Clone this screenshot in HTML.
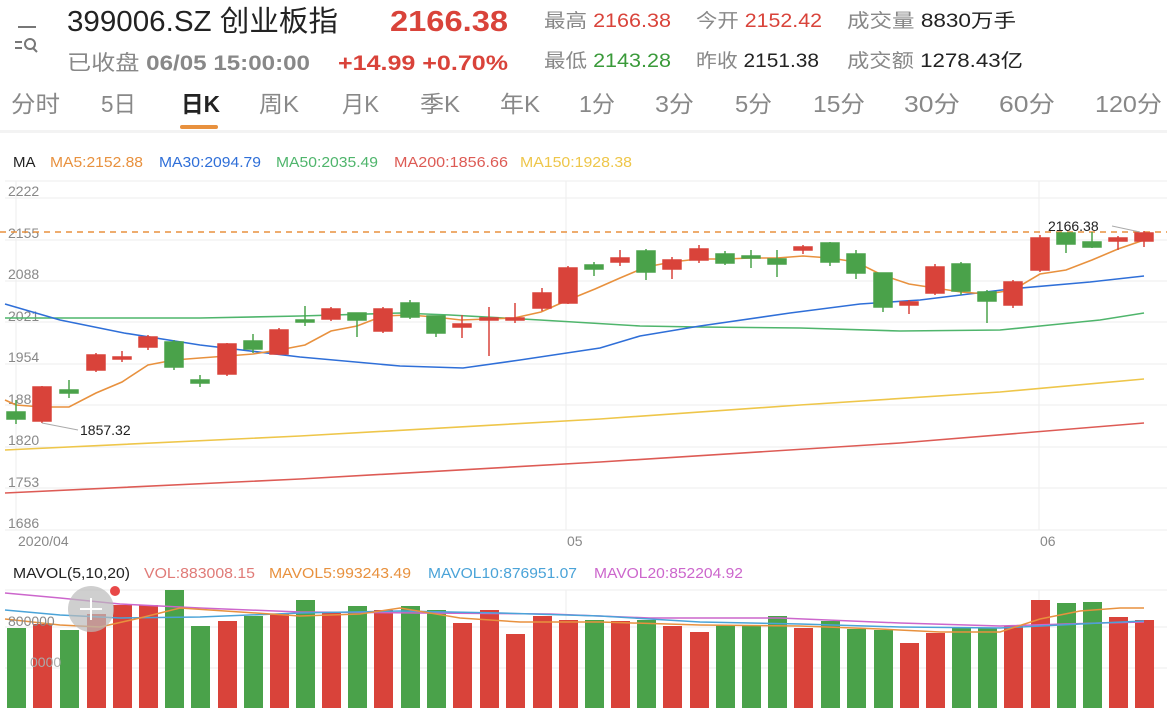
<!DOCTYPE html>
<html><head><meta charset="utf-8"><style>
html,body{margin:0;padding:0;background:#fff;width:1167px;height:716px;overflow:hidden}
svg{display:block}
text{font-family:"Liberation Sans","Noto Sans CJK SC",sans-serif}
</style></head><body>
<svg width="1167" height="716" viewBox="0 0 1167 716" xmlns="http://www.w3.org/2000/svg">
<!-- header -->
<g stroke="#777" stroke-width="2" fill="none">
<line x1="18" y1="27" x2="36" y2="27"/><line x1="15" y1="42" x2="22" y2="42"/><line x1="15" y1="48" x2="22" y2="48"/>
<circle cx="30" cy="44" r="5"/><line x1="33" y1="48" x2="37" y2="52"/>
</g>
<text x="67" y="31" font-size="29" fill="#222" textLength="271" lengthAdjust="spacingAndGlyphs">399006.SZ 创业板指</text>
<text x="390" y="31" font-size="29" font-weight="bold" fill="#d9433a" textLength="118" lengthAdjust="spacingAndGlyphs">2166.38</text>
<text x="67" y="70" font-size="21" fill="#888" textLength="243" lengthAdjust="spacingAndGlyphs">已收盘 <tspan font-weight="bold">06/05 15:00:00</tspan></text>
<text x="338" y="70" font-size="21" font-weight="bold" fill="#d9433a" textLength="170" lengthAdjust="spacingAndGlyphs">+14.99  +0.70%</text>
<g font-size="19">
<text x="544" y="27" fill="#888" textLength="127" lengthAdjust="spacingAndGlyphs">最高 <tspan fill="#d9433a">2166.38</tspan></text>
<text x="696" y="27" fill="#888" textLength="126" lengthAdjust="spacingAndGlyphs">今开 <tspan fill="#d9433a">2152.42</tspan></text>
<text x="847" y="27" fill="#888" textLength="169" lengthAdjust="spacingAndGlyphs">成交量 <tspan fill="#222">8830万手</tspan></text>
<text x="544" y="67" fill="#888" textLength="127" lengthAdjust="spacingAndGlyphs">最低 <tspan fill="#3a9a3a">2143.28</tspan></text>
<text x="696" y="67" fill="#888" textLength="123" lengthAdjust="spacingAndGlyphs">昨收 <tspan fill="#222">2151.38</tspan></text>
<text x="847" y="67" fill="#888" textLength="176" lengthAdjust="spacingAndGlyphs">成交额 <tspan fill="#222">1278.43亿</tspan></text>
</g>
<g font-size="23" fill="#888">
<text x="11" y="112" textLength="49" lengthAdjust="spacingAndGlyphs">分时</text>
<text x="101" y="112" textLength="35" lengthAdjust="spacingAndGlyphs">5日</text>
<text x="181" y="112" fill="#222" font-weight="bold" textLength="39" lengthAdjust="spacingAndGlyphs">日K</text>
<text x="259" y="112" textLength="40" lengthAdjust="spacingAndGlyphs">周K</text>
<text x="342" y="112" textLength="37" lengthAdjust="spacingAndGlyphs">月K</text>
<text x="420" y="112" textLength="40" lengthAdjust="spacingAndGlyphs">季K</text>
<text x="500" y="112" textLength="40" lengthAdjust="spacingAndGlyphs">年K</text>
<text x="579" y="112" textLength="36" lengthAdjust="spacingAndGlyphs">1分</text>
<text x="655" y="112" textLength="39" lengthAdjust="spacingAndGlyphs">3分</text>
<text x="735" y="112" textLength="37" lengthAdjust="spacingAndGlyphs">5分</text>
<text x="813" y="112" textLength="52" lengthAdjust="spacingAndGlyphs">15分</text>
<text x="904" y="112" textLength="56" lengthAdjust="spacingAndGlyphs">30分</text>
<text x="999" y="112" textLength="56" lengthAdjust="spacingAndGlyphs">60分</text>
<text x="1095" y="112" textLength="67" lengthAdjust="spacingAndGlyphs">120分</text>
</g>
<rect x="180" y="125" width="38" height="4" rx="2" fill="#e8913e"/>
<rect x="0" y="130" width="1167" height="3" fill="#f3f3f3"/>
<!-- MA legend -->
<g font-size="15">
<text x="13" y="167" fill="#222">MA</text>
<text x="50" y="167" fill="#e8913e" textLength="93" lengthAdjust="spacingAndGlyphs">MA5:2152.88</text>
<text x="159" y="167" fill="#2f6fd8" textLength="102" lengthAdjust="spacingAndGlyphs">MA30:2094.79</text>
<text x="276" y="167" fill="#4fb56c" textLength="102" lengthAdjust="spacingAndGlyphs">MA50:2035.49</text>
<text x="394" y="167" fill="#dd5b55" textLength="114" lengthAdjust="spacingAndGlyphs">MA200:1856.66</text>
<text x="520" y="167" fill="#eec64a" textLength="112" lengthAdjust="spacingAndGlyphs">MA150:1928.38</text>
</g>
<!-- grid -->
<g stroke="#eeeeee" stroke-width="1">
<line x1="5" y1="181" x2="1167" y2="181"/><line x1="5" y1="198" x2="1167" y2="198"/>
<line x1="5" y1="240" x2="1167" y2="240"/><line x1="5" y1="281" x2="1167" y2="281"/>
<line x1="5" y1="322" x2="1167" y2="322"/><line x1="5" y1="364" x2="1167" y2="364"/>
<line x1="5" y1="405" x2="1167" y2="405"/><line x1="5" y1="447" x2="1167" y2="447"/>
<line x1="5" y1="488" x2="1167" y2="488"/><line x1="5" y1="530" x2="1167" y2="530"/>
<line x1="16" y1="181" x2="16" y2="530"/><line x1="566" y1="181" x2="566" y2="530"/><line x1="1039" y1="181" x2="1039" y2="530"/>
<line x1="5" y1="590" x2="1167" y2="590"/><line x1="5" y1="627" x2="1167" y2="627"/><line x1="5" y1="668" x2="1167" y2="668"/>
<line x1="566" y1="590" x2="566" y2="708"/><line x1="1039" y1="590" x2="1039" y2="708"/>
</g>
<g font-size="14" fill="#888">
<text x="8" y="196">2222</text><text x="8" y="238">2155</text><text x="8" y="279">2088</text>
<text x="8" y="321">2021</text><text x="8" y="362">1954</text><text x="8" y="404">188</text>
<text x="8" y="445">1820</text><text x="8" y="487">1753</text><text x="8" y="528">1686</text>
<text x="18" y="546">2020/04</text><text x="567" y="546">05</text><text x="1040" y="546">06</text>
</g>
<line x1="0" y1="232" x2="1167" y2="232" stroke="#e8913e" stroke-width="1.5" stroke-dasharray="6,5"/>
<!-- MA lines -->
<g fill="none" stroke-width="1.6">
<polyline stroke="#dd5b55" points="5,493 300,479 600,462 900,443 1144,423"/>
<polyline stroke="#eec64a" points="5,450 300,436 600,419 800,405 1000,392 1144,379"/>
<polyline stroke="#4fb56c" points="5,318 200,318 300,316 400,313 450,315 540,320 640,326 700,327 800,328 900,331 1000,330 1050,325 1100,320 1144,313"/>
<polyline stroke="#2f6fd8" points="5,304 60,320 124,333 200,345 300,357 400,366 463,368 520,360 600,348 640,336 700,326 790,313 860,304 920,300 1010,289 1090,282 1144,276"/>
<polyline stroke="#e8913e" points="5,400 16,405 42,407 69,407 96,393 122,382 148,365 174,360 200,358 227,356 253,354 279,350 305,345 331,331 357,326 383,316 409,315 435,317 461,320 488,319 514,318 541,312 568,300 595,289 620,278 646,267 672,262 698,259 725,259 751,258 777,258 803,256 830,258 856,262 882,275 909,284 935,288 961,292 987,294 1013,290 1040,274 1066,270 1092,260 1118,249 1144,240"/>
</g>
<!-- candles -->
<g stroke-width="1.5">
<g stroke="#4aa24a" fill="#4aa24a">
<line x1="16" y1="400" x2="16" y2="424"/><rect x="7" y="412" width="18" height="7"/>
<line x1="69" y1="380" x2="69" y2="398"/><rect x="60" y="390" width="18" height="3"/>
<line x1="174" y1="340" x2="174" y2="370"/><rect x="165" y="342" width="18" height="25"/>
<line x1="200" y1="375" x2="200" y2="387"/><rect x="191" y="380" width="18" height="3"/>
<line x1="253" y1="334" x2="253" y2="353"/><rect x="244" y="341" width="18" height="8"/>
<line x1="305" y1="306" x2="305" y2="326"/><rect x="296" y="320" width="18" height="2"/>
<line x1="357" y1="313" x2="357" y2="337"/><rect x="348" y="313" width="18" height="7"/>
<line x1="410" y1="300" x2="410" y2="319"/><rect x="401" y="303" width="18" height="14"/>
<line x1="436" y1="316" x2="436" y2="337"/><rect x="427" y="316" width="18" height="17"/>
<line x1="594" y1="262" x2="594" y2="276"/><rect x="585" y="265" width="18" height="4"/>
<line x1="646" y1="249" x2="646" y2="280"/><rect x="637" y="251" width="18" height="21"/>
<line x1="725" y1="251" x2="725" y2="265"/><rect x="716" y="254" width="18" height="9"/>
<line x1="751" y1="250" x2="751" y2="268"/><rect x="742" y="256" width="18" height="2"/>
<line x1="777" y1="250" x2="777" y2="277"/><rect x="768" y="259" width="18" height="5"/>
<line x1="830" y1="242" x2="830" y2="266"/><rect x="821" y="243" width="18" height="19"/>
<line x1="856" y1="250" x2="856" y2="279"/><rect x="847" y="254" width="18" height="19"/>
<line x1="883" y1="273" x2="883" y2="312"/><rect x="874" y="273" width="18" height="34"/>
<line x1="961" y1="262" x2="961" y2="295"/><rect x="952" y="264" width="18" height="27"/>
<line x1="987" y1="290" x2="987" y2="323"/><rect x="978" y="292" width="18" height="9"/>
<line x1="1066" y1="233" x2="1066" y2="253"/><rect x="1057" y="233" width="18" height="11"/>
<line x1="1092" y1="232" x2="1092" y2="248"/><rect x="1083" y="242" width="18" height="5"/>
</g>
<g stroke="#d9433a" fill="#d9433a">
<line x1="42" y1="386" x2="42" y2="423"/><rect x="33" y="387" width="18" height="34"/>
<line x1="96" y1="353" x2="96" y2="372"/><rect x="87" y="355" width="18" height="15"/>
<line x1="122" y1="351" x2="122" y2="362"/><rect x="113" y="357" width="18" height="2"/>
<line x1="148" y1="335" x2="148" y2="350"/><rect x="139" y="337" width="18" height="10"/>
<line x1="227" y1="343" x2="227" y2="376"/><rect x="218" y="344" width="18" height="30"/>
<line x1="279" y1="328" x2="279" y2="355"/><rect x="270" y="330" width="18" height="24"/>
<line x1="331" y1="307" x2="331" y2="321"/><rect x="322" y="309" width="18" height="10"/>
<line x1="383" y1="307" x2="383" y2="333"/><rect x="374" y="309" width="18" height="22"/>
<line x1="462" y1="315" x2="462" y2="338"/><rect x="453" y="324" width="18" height="3"/>
<line x1="489" y1="307" x2="489" y2="356"/><rect x="480" y="318" width="18" height="2"/>
<line x1="515" y1="303" x2="515" y2="323"/><rect x="506" y="318" width="18" height="2"/>
<line x1="542" y1="288" x2="542" y2="311"/><rect x="533" y="293" width="18" height="15"/>
<line x1="568" y1="266" x2="568" y2="304"/><rect x="559" y="268" width="18" height="35"/>
<line x1="620" y1="250" x2="620" y2="266"/><rect x="611" y="258" width="18" height="4"/>
<line x1="672" y1="257" x2="672" y2="279"/><rect x="663" y="260" width="18" height="9"/>
<line x1="699" y1="245" x2="699" y2="263"/><rect x="690" y="249" width="18" height="11"/>
<line x1="803" y1="245" x2="803" y2="254"/><rect x="794" y="247" width="18" height="3"/>
<line x1="909" y1="300" x2="909" y2="314"/><rect x="900" y="302" width="18" height="3"/>
<line x1="935" y1="264" x2="935" y2="295"/><rect x="926" y="267" width="18" height="26"/>
<line x1="1013" y1="280" x2="1013" y2="308"/><rect x="1004" y="282" width="18" height="23"/>
<line x1="1040" y1="235" x2="1040" y2="272"/><rect x="1031" y="238" width="18" height="32"/>
<line x1="1118" y1="236" x2="1118" y2="250"/><rect x="1109" y="238" width="18" height="3"/>
<line x1="1144" y1="231" x2="1144" y2="247"/><rect x="1135" y="233" width="18" height="8"/>
</g>
</g>
<!-- annotations -->
<line x1="42" y1="423" x2="78" y2="430" stroke="#aaa" stroke-width="1"/>
<text x="80" y="435" font-size="14" fill="#222">1857.32</text>
<line x1="1112" y1="226" x2="1140" y2="232" stroke="#aaa" stroke-width="1"/>
<text x="1048" y="231" font-size="14" fill="#222">2166.38</text>
<!-- volume -->
<g font-size="15">
<text x="13" y="578" fill="#222" textLength="117" lengthAdjust="spacingAndGlyphs">MAVOL(5,10,20)</text>
<text x="144" y="578" fill="#e07b78" textLength="111" lengthAdjust="spacingAndGlyphs">VOL:883008.15</text>
<text x="269" y="578" fill="#e8913e" textLength="142" lengthAdjust="spacingAndGlyphs">MAVOL5:993243.49</text>
<text x="428" y="578" fill="#4aa3d8" textLength="149" lengthAdjust="spacingAndGlyphs">MAVOL10:876951.07</text>
<text x="594" y="578" fill="#cc66cc" textLength="149" lengthAdjust="spacingAndGlyphs">MAVOL20:852204.92</text>
</g>
<g fill="#4aa24a">
<rect x="7" y="628" width="19" height="80"/><rect x="60" y="630" width="19" height="78"/>
<rect x="165" y="590" width="19" height="118"/><rect x="191" y="626" width="19" height="82"/>
<rect x="244" y="616" width="19" height="92"/><rect x="296" y="600" width="19" height="108"/>
<rect x="348" y="606" width="19" height="102"/><rect x="401" y="606" width="19" height="102"/>
<rect x="427" y="610" width="19" height="98"/><rect x="585" y="620" width="19" height="88"/>
<rect x="637" y="620" width="19" height="88"/><rect x="716" y="625" width="19" height="83"/>
<rect x="742" y="625" width="19" height="83"/><rect x="768" y="616" width="19" height="92"/>
<rect x="821" y="621" width="19" height="87"/><rect x="847" y="629" width="19" height="79"/>
<rect x="874" y="630" width="19" height="78"/><rect x="952" y="628" width="19" height="80"/>
<rect x="978" y="628" width="19" height="80"/><rect x="1057" y="603" width="19" height="105"/>
<rect x="1083" y="602" width="19" height="106"/>
</g>
<g fill="#d9433a">
<rect x="33" y="624" width="19" height="84"/><rect x="87" y="614" width="19" height="94"/>
<rect x="113" y="605" width="19" height="103"/><rect x="139" y="605" width="19" height="103"/>
<rect x="218" y="621" width="19" height="87"/><rect x="270" y="614" width="19" height="94"/>
<rect x="322" y="613" width="19" height="95"/><rect x="374" y="610" width="19" height="98"/>
<rect x="453" y="623" width="19" height="85"/><rect x="480" y="610" width="19" height="98"/>
<rect x="506" y="634" width="19" height="74"/><rect x="533" y="616" width="19" height="92"/>
<rect x="559" y="620" width="19" height="88"/><rect x="611" y="621" width="19" height="87"/>
<rect x="663" y="626" width="19" height="82"/><rect x="690" y="632" width="19" height="76"/>
<rect x="794" y="628" width="19" height="80"/><rect x="900" y="643" width="19" height="65"/>
<rect x="926" y="633" width="19" height="75"/><rect x="1004" y="626" width="19" height="82"/>
<rect x="1031" y="600" width="19" height="108"/><rect x="1109" y="617" width="19" height="91"/>
<rect x="1135" y="620" width="19" height="88"/>
</g>
<g fill="none" stroke-width="1.5">
<polyline stroke="#cc66cc" points="5,593 60,598 120,604 200,608 300,612 420,613 550,614 650,618 780,618 900,623 1000,626 1100,623 1144,622"/>
<polyline stroke="#4aa3d8" points="5,610 60,615 120,618 200,617 300,613 400,611 500,613 600,616 700,622 800,624 900,627 1000,628 1100,623 1144,621"/>
<polyline stroke="#e8913e" points="5,619 60,625 100,627 140,618 180,608 240,612 300,616 360,614 400,608 460,618 520,622 600,622 700,625 800,626 880,629 940,632 1000,632 1040,619 1080,611 1120,608 1144,608"/>
</g>
<text x="8" y="626" font-size="14" fill="#888">800000</text>
<text x="30" y="667" font-size="14" fill="#aaa">0000</text>
<circle cx="91" cy="609" r="23" fill="#bbb" fill-opacity="0.7"/>
<line x1="91" y1="598" x2="91" y2="620" stroke="#fff" stroke-width="2"/><line x1="80" y1="609" x2="102" y2="609" stroke="#fff" stroke-width="2"/>
<circle cx="115" cy="591" r="5" fill="#e84848"/>
</svg>
</body></html>
